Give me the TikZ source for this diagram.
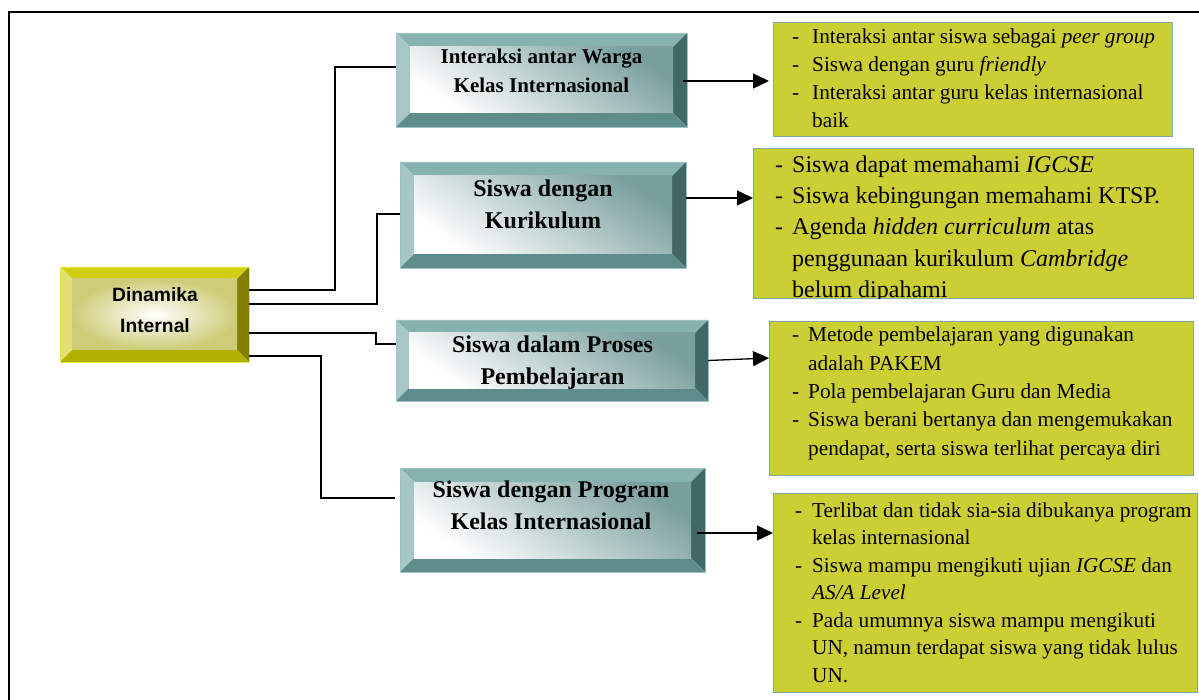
\documentclass[tikz,border=0pt]{standalone}
\usepackage{fontspec}
\setmainfont{Liberation Serif}
\newfontfamily\sansbold{Liberation Sans}
\usetikzlibrary{calc,arrows.meta}
\pgfdeclarelayer{background}
\pgfsetlayers{background,main}

% bevel palettes
\definecolor{tealT}{RGB}{134,178,175}
\definecolor{tealL}{RGB}{166,199,197}
\definecolor{tealR}{RGB}{64,104,102}
\definecolor{tealB}{RGB}{94,140,138}
\definecolor{tealIn}{RGB}{122,160,158}
\definecolor{tealEdge}{RGB}{160,194,192}
\definecolor{yelT}{RGB}{210,206,20}
\definecolor{yelL}{RGB}{226,224,112}
\definecolor{yelR}{RGB}{127,127,0}
\definecolor{yelB}{RGB}{178,176,0}
\definecolor{yelIn}{RGB}{206,204,120}
\definecolor{yelEdge}{RGB}{232,230,70}
\definecolor{noteFill}{RGB}{204,207,51}
\definecolor{noteEdge}{RGB}{128,168,164}

% four bevel faces plus a shaded face, drawn behind a named node
% #1 node name, #2 bevel width, #3 palette prefix
\newcommand\bevelframe[3]{%
  \begin{pgfonlayer}{background}
    \fill[#3T] (#1.north west) -- (#1.north east) -- ($(#1.north east)+(-#2,#2)$) -- ($(#1.north west)+(#2,#2)$) -- cycle;
    \fill[#3L] (#1.north west) -- ($(#1.north west)+(#2,#2)$) -- ($(#1.south west)+(#2,-#2)$) -- (#1.south west) -- cycle;
    \fill[#3R] (#1.north east) -- (#1.south east) -- ($(#1.south east)+(-#2,-#2)$) -- ($(#1.north east)+(-#2,#2)$) -- cycle;
    \fill[#3B] (#1.south west) -- (#1.south east) -- ($(#1.south east)+(-#2,-#2)$) -- ($(#1.south west)+(#2,-#2)$) -- cycle;
    \shade[#3face] ($(#1.north west)+(#2,#2)$) rectangle ($(#1.south east)+(-#2,-#2)$);
  \end{pgfonlayer}}

\tikzset{
  tealface/.style={top color=tealIn, middle color=white!80!tealIn, bottom color=white, shading angle=-35},
  yelface/.style={inner color=white, outer color=yelIn},
  tealbox/.style={draw=tealEdge, line width=0.6pt, inner sep=0pt, outer sep=0pt},
  yelbox/.style={draw=yelEdge, line width=0.8pt, inner sep=0pt, outer sep=0pt},
  link/.style={line width=1.3pt},
  arr/.style={line width=1.3pt, -{Triangle[length=16pt,width=15pt]}},
  note/.style={draw=noteEdge, line width=1pt, fill=noteFill, inner sep=0pt, outer sep=0pt},
  lbl/.style={inner sep=0pt, anchor=base},
  notetext/.style={inner sep=0pt, anchor=base west},
}

\begin{document}
\begin{tikzpicture}[x=1pt, y=-1pt]
\useasboundingbox (0,0) rectangle (1199,700);

% outer frame (runs past the right and bottom edges)
\coordinate (frTR) at (1205,12);
\coordinate (frTL) at (9,12);
\coordinate (frBL) at (9,706);
\draw[line width=1.3pt] (frTR) -- (frTL) -- (frBL);

% central node
\node[yelbox, minimum width=189pt, minimum height=95pt] (din) at (154.5,314.5) {};
\bevelframe{din}{12}{yel}
\node[lbl] (dintext) at (155,302) {\sansbold\bfseries\fontsize{19.3}{31}\selectfont
  \begin{tabular}[t]{@{}c@{}}Dinamika\\Internal\end{tabular}};

% category nodes
\node[tealbox, minimum width=291pt, minimum height=94pt] (b1) at (541.5,80) {};
\bevelframe{b1}{14}{teal}
\node[lbl] (b1text) at (541.5,64) {\bfseries\fontsize{21}{29}\selectfont
  \begin{tabular}[t]{@{}c@{}}Interaksi antar Warga\\Kelas Internasional\end{tabular}};

\node[tealbox, minimum width=286pt, minimum height=106pt] (b2) at (543,215) {};
\bevelframe{b2}{14}{teal}
\node[lbl] (b2text) at (543,197) {\bfseries\fontsize{24}{32}\selectfont
  \begin{tabular}[t]{@{}c@{}}Siswa dengan\\Kurikulum\end{tabular}};

\node[tealbox, minimum width=312pt, minimum height=81pt] (b3) at (552,360.5) {};
\bevelframe{b3}{13}{teal}
\node[lbl] (b3text) at (552.5,353) {\bfseries\fontsize{24}{32}\selectfont
  \begin{tabular}[t]{@{}c@{}}Siswa dalam Proses\\Pembelajaran\end{tabular}};

\node[tealbox, minimum width=305pt, minimum height=104pt] (b4) at (552.5,520) {};
\bevelframe{b4}{14}{teal}
\node[lbl] (b4text) at (551,497) {\bfseries\fontsize{24}{32}\selectfont
  \begin{tabular}[t]{@{}c@{}}Siswa dengan Program\\Kelas Internasional\end{tabular}};

% note boxes
\node[note, minimum width=399pt, minimum height=114pt] (t1) at (972.5,80) {};
\node[notetext] (t1text) at ($(t1.north west)+(19,21)$) {\fontsize{21.3}{27.7}\selectfont
  \begin{tabular}[t]{@{}p{20pt}@{}l@{}}
  - & Interaksi antar siswa sebagai \textit{peer group}\\
  - & Siswa dengan guru \textit{friendly}\\
  - & Interaksi antar guru kelas internasional\\
    & baik
  \end{tabular}};

\node[note, minimum width=440pt, minimum height=150pt] (t2) at (973,224) {};
\begin{scope}
  \clip (t2.north west) rectangle (t2.south east);
  \node[notetext] (t2text) at ($(t2.north west)+(22,23.5)$) {\fontsize{24}{31.2}\selectfont
    \begin{tabular}[t]{@{}p{17pt}@{}l@{}}
    - & Siswa dapat memahami \textit{IGCSE}\\
    - & Siswa kebingungan memahami KTSP.\\
    - & Agenda \textit{hidden curriculum} atas\\
      & penggunaan kurikulum \textit{Cambridge}\\
      & belum dipahami
    \end{tabular}};
\end{scope}

\node[note, minimum width=424pt, minimum height=153pt] (t3) at (981,398.5) {};
\node[notetext] (t3text) at ($(t3.north west)+(23,20)$) {\fontsize{21.3}{28.25}\selectfont
  \begin{tabular}[t]{@{}p{16pt}@{}l@{}}
  - & Metode pembelajaran yang digunakan\\
    & adalah PAKEM\\
  - & Pola pembelajaran Guru dan Media\\
  - & Siswa berani bertanya dan mengemukakan\\
    & pendapat, serta siswa terlihat percaya diri
  \end{tabular}};

\node[note, minimum width=424pt, minimum height=199pt] (t4) at (985,592.5) {};
\node[notetext] (t4text) at ($(t4.north west)+(22,24)$) {\fontsize{21.2}{27.5}\selectfont
  \begin{tabular}[t]{@{}p{17pt}@{}l@{}}
  - & Terlibat dan tidak sia-sia dibukanya program\\
    & kelas internasional\\
  - & Siswa mampu mengikuti ujian \textit{IGCSE} dan\\
    & \textit{AS/A Level}\\
  - & Pada umumnya siswa mampu mengikuti\\
    & UN, namun terdapat siswa yang tidak lulus\\
    & UN.
  \end{tabular}};

% elbow connectors from the central node
\draw[link] ($(din.north east)+(0,23)$) -| ($(b1.north west)+(-61,34)$) -- ($(b1.north west)+(0,34)$);
\draw[link] ($(din.north east)+(0,37)$) -| ($(b2.north west)+(-23,52)$) -- ($(b2.north west)+(0,52)$);
\draw[link] ($(din.north east)+(0,66)$) -| ($(b3.north west)+(-20,24)$) -- ($(b3.north west)+(0,24)$);
\draw[link] ($(din.north east)+(0,89)$) -| ($(b4.north west)+(-79,30)$) -- ($(b4.north west)+(-5,30)$);

% arrows to the notes
\draw[arr] ($(b1.east)+(-4,1)$) -- ($(t1.west)+(-4,1)$);
\draw[arr] ($(b2.north east)+(0,36)$) -- ($(t2.north west)+(0,49)$);
\draw[arr] (b3.east) -- ($(t3.north west)+(0,36)$);
\draw[arr] ($(b4.north east)+(-8,65)$) -- ($(t4.north west)+(0,40)$);
\end{tikzpicture}
\end{document}
